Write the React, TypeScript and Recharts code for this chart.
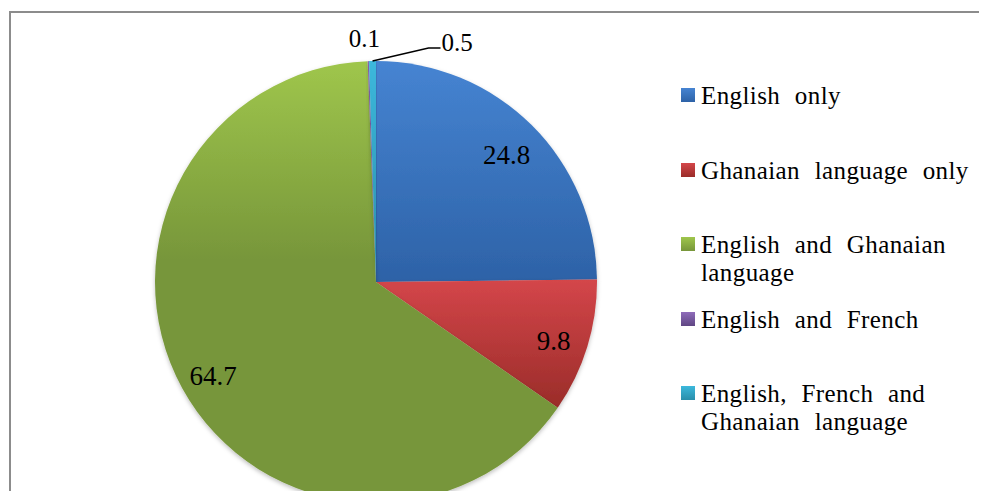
import React from 'react';
import { Legend, Pie, PieChart, Cell } from 'recharts';

const categories = [
  'English only',
  'Ghanaian language only',
  'English and Ghanaian language',
  'English and French',
  'English, French and Ghanaian language',
];
const shares = [24.8, 9.8, 64.7, 0.1, 0.5];

// light top / dark bottom, like the office gradient fill
const LIGHT = ['#4684d2', '#d4464a', '#9fc64c', '#8f6cba', '#3cb8dc'];
const DARK = ['#2d62a7', '#9a2c29', '#77963a', '#5f4683', '#2a8eaa'];

const chartData = categories.map((name, i) => ({ name, value: shares[i] }));

const RADIAN = Math.PI / 180;
const FONT = 'Liberation Serif';

const renderLabel = (props: any) => {
  const { cx, cy, midAngle, outerRadius, value, index } = props;
  const cos = Math.cos(-midAngle * RADIAN);
  const sin = Math.sin(-midAngle * RADIAN);

  if (value >= 5) {
    const r = outerRadius * 0.84;
    return (
      <text
        x={cx + r * cos}
        y={cy + r * sin + 5}
        textAnchor="middle"
        dominantBaseline="central"
        style={{ fontFamily: FONT, fontSize: 27, fill: '#000' }}
      >
        {value}
      </text>
    );
  }

  const small = { fontFamily: FONT, fontSize: 25, fill: '#000' };
  // rim point of the thin slice
  const px = cx + outerRadius * cos;
  const py = cy + outerRadius * sin;
  if (index === 3) {
    return (
      <text x={px - 4} y={py - 14} textAnchor="middle" style={small}>
        {value}
      </text>
    );
  }
  return (
    <g>
      <polyline
        points={`${px},${py} ${px + 56},${py - 13} ${px + 68},${py - 13}`}
        fill="none"
        stroke="#000"
        strokeWidth={1.5}
      />
      <text x={px + 69} y={py - 10} textAnchor="start" style={small}>
        {value}
      </text>
    </g>
  );
};

const renderLegend = () => (
  <div style={{ fontFamily: FONT, fontSize: 25, letterSpacing: 0.4, wordSpacing: 8, color: '#000' }}>
    {categories.map((name, i) => (
      <div key={name} style={{ position: 'relative', height: 74.5, paddingLeft: 28, lineHeight: '28px' }}>
        <div
          style={{
            position: 'absolute',
            left: 8,
            top: 6,
            width: 14,
            height: 14,
            background: `linear-gradient(${LIGHT[i]}, ${DARK[i]})`,
          }}
        />
        {name}
      </div>
    ))}
  </div>
);

export default function App() {
  return (
    <div style={{ position: 'relative', width: 987, height: 499, margin: -8, overflow: 'hidden', background: '#fff' }}>
      <div
        style={{
          position: 'absolute',
          left: 9,
          top: 11,
          width: 1000,
          height: 600,
          border: '2px solid #8c8c8c',
        }}
      />
      <PieChart
        width={987}
        height={499}
        margin={{ top: 0, right: 0, bottom: 0, left: 0 }}
        style={{ position: 'absolute', left: 0, top: 0 }}
      >
        <defs>
          {LIGHT.map((c, i) => (
            <linearGradient key={i} id={`grad-${i}`} x1="0" y1="0" x2="0" y2="1">
              <stop offset="0%" stopColor={c} />
              <stop offset={i === 2 ? '45%' : '100%'} stopColor={DARK[i]} />
              <stop offset="100%" stopColor={DARK[i]} />
            </linearGradient>
          ))}
          <filter id="pie-shadow" x="-10%" y="-10%" width="120%" height="120%">
            <feDropShadow dx="0" dy="2" stdDeviation="2" floodColor="#000" floodOpacity="0.25" />
          </filter>
        </defs>
        <Pie
          data={chartData}
          dataKey="value"
          nameKey="name"
          cx={376}
          cy={282}
          outerRadius={221}
          startAngle={90}
          endAngle={-270}
          stroke="none"
          label={renderLabel}
          labelLine={false}
          isAnimationActive={false}
          style={{ filter: 'url(#pie-shadow)' }}
        >
          {chartData.map((entry, index) => (
            <Cell key={`cell-${index}`} fill={`url(#grad-${index})`} />
          ))}
        </Pie>
        <Legend
          layout="vertical"
          content={renderLegend}
          wrapperStyle={{ position: 'absolute', left: 673, top: 82, width: 310 }}
        />
      </PieChart>
    </div>
  );
}
